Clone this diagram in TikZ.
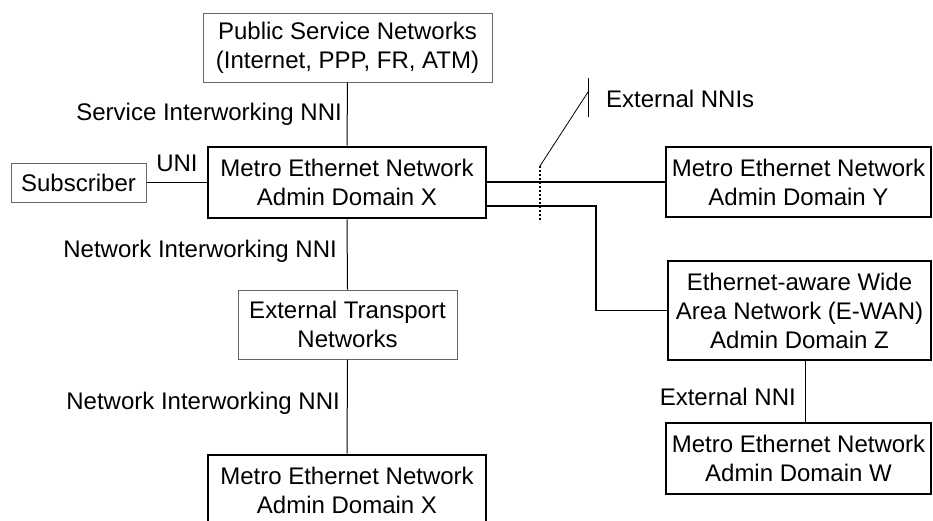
\documentclass[tikz,border=0pt]{standalone}
\usepackage{fontspec}
\setmainfont{Liberation Sans}
\begin{document}
\begin{tikzpicture}[x=1pt,y=-1pt,
  every node/.style={font=\fontsize{24}{29}\selectfont, align=center},
  thinbox/.style={draw=black!60, line width=1pt, inner sep=0pt, fill=white},
  thickbox/.style={draw=black, line width=2.6pt, inner sep=0pt, fill=white},
  conn/.style={draw=black, line width=1pt},
  conn2/.style={draw=black, line width=1.6pt},
  lbl/.style={inner sep=0pt}]
\useasboundingbox (0,0) rectangle (933,520);
\node[thinbox, minimum width=289, minimum height=69] (psn) at (347.5,47.5) {Public Service Networks\\(Internet, PPP, FR, ATM)};
\node[thickbox, minimum width=278, minimum height=71] (menx) at (347,182.5) {Metro Ethernet Network\\Admin Domain X};
\node[thinbox, minimum width=135, minimum height=39] (sub) at (78.5,182.5) {Subscriber};
\node[thickbox, minimum width=265, minimum height=70] (meny) at (798.5,182) {Metro Ethernet Network\\Admin Domain Y};
\node[thickbox, minimum width=263, minimum height=99] (ewan) at (799.5,310.5) {Ethernet-aware Wide\\Area Network (E-WAN)\\Admin Domain Z};
\node[thickbox, minimum width=265, minimum height=71] (menw) at (798.5,458.5) {Metro Ethernet Network\\Admin Domain W};
\node[thinbox, minimum width=219, minimum height=69] (ext) at (347.5,324.5) {External Transport\\Networks};
\node[thickbox, minimum width=278, minimum height=71] (menx2) at (347,490.5) {Metro Ethernet Network\\Admin Domain X};

\coordinate (k1) at (596,206);
\coordinate (ycut) at (0,182);
\coordinate (ex) at (805,0);
\coordinate (d1) at (540,166);
\coordinate (d2) at (540,222);
\coordinate (s1) at (588,92);
\coordinate (v1) at (588,78);
\coordinate (v2) at (588,117);

\draw[conn] (psn.south) -- (menx.north);
\draw[conn] (sub.east) -- (sub.east -| menx.west);
\draw[conn2] (ycut -| menx.east) -- (ycut -| meny.west);
\draw[conn2] (k1 -| menx.east) -- (k1) |- (ewan.west);
\draw[conn] (menx.south) -- (ext.north);
\draw[conn] (ext.south) -- (menx2.north);
\draw[conn] (ewan.south -| ex) -- (menw.north -| ex);

\draw[line width=2pt, dash pattern=on 2pt off 2pt] (d1) -- (d2);
\draw[line width=0.8pt] (d1) -- (s1);
\draw[line width=0.8pt] (v1) -- (v2);

\node[lbl, anchor=west] (lext) at (606,99) {External NNIs};
\node[lbl, anchor=east] (lsvc) at (342,114) {Service Interworking NNI};
\node[lbl] (luni) at (177,163) {UNI};
\node[lbl, anchor=east] (lnw1) at (337,251) {Network Interworking NNI};
\node[lbl, anchor=east] (lnw2) at (340,403) {Network Interworking NNI};
\node[lbl, anchor=east] (lene) at (796,397) {External NNI};
\end{tikzpicture}
\end{document}
